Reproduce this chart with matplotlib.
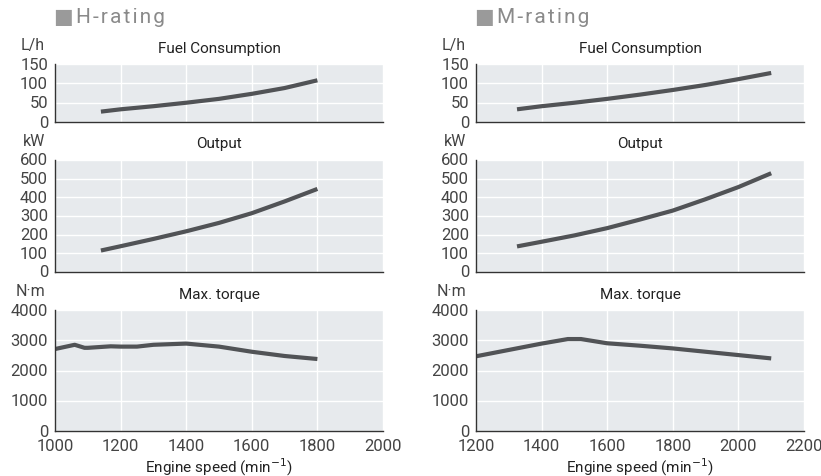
import matplotlib.pyplot as plt

# H-rating
h_fuel_rpm = [1140, 1200, 1300, 1400, 1500, 1600, 1700, 1800]
h_fuel = [27, 33, 41, 50, 60, 73, 88, 108]
h_output_rpm = [1140, 1200, 1300, 1400, 1500, 1600, 1700, 1800]
h_output = [115, 138, 177, 218, 263, 315, 378, 445]
h_torque_rpm = [1000, 1060, 1090, 1100, 1170, 1200, 1250, 1300, 1400, 1500, 1600, 1700, 1800]
h_torque = [2710, 2850, 2750, 2750, 2800, 2790, 2790, 2850, 2890, 2790, 2620, 2480, 2380]

# M-rating
m_fuel_rpm = [1325, 1400, 1500, 1600, 1700, 1800, 1900, 2000, 2100]
m_fuel = [33, 41, 50, 60, 71, 83, 96, 111, 127]
m_output_rpm = [1325, 1400, 1500, 1600, 1700, 1800, 1900, 2000, 2100]
m_output = [137, 162, 196, 235, 281, 329, 390, 455, 529]
m_torque_rpm = [1200, 1300, 1400, 1480, 1520, 1600, 1700, 1800, 1900, 2000, 2100]
m_torque = [2470, 2680, 2890, 3040, 3040, 2900, 2820, 2730, 2620, 2510, 2400]

h_xticks = [1000, 1200, 1400, 1600, 1800, 2000]
m_xticks = [1200, 1400, 1600, 1800, 2000, 2200]

BG = "#e7eaed"
LINE = "#515356"

plt.rcParams["font.family"] = ["Roboto", "DejaVu Sans"]

fig = plt.figure(figsize=(8.21, 4.77), dpi=100)

rows = [
    # bottom, height, ylim, yticks, unit, title
    (0.742, 0.1216, 150, [0, 50, 100, 150], "L/h", "Fuel Consumption"),
    (0.4277, 0.2348, 600, [0, 100, 200, 300, 400, 500, 600], "kW", "Output"),
    (0.0943, 0.2537, 4000, [0, 1000, 2000, 3000, 4000], "N·m", "Max. torque"),
]

columns = [
    (0.067, "H-rating", h_xticks,
     [(h_fuel_rpm, h_fuel), (h_output_rpm, h_output), (h_torque_rpm, h_torque)]),
    (0.5798, "M-rating", m_xticks,
     [(m_fuel_rpm, m_fuel), (m_output_rpm, m_output), (m_torque_rpm, m_torque)]),
]

width = 0.3995
fig_w, fig_h = 821, 477

for left, rating, xticks, series in columns:
    fig.text(left - 0.002, 0.964, "■", color="#9a9a9a", fontsize=15, va="center", ha="left",
             family=["DejaVu Sans"])
    fig.text(left + 0.025, 0.964, "\u200a".join(rating),
             color="#8a8a8a", fontsize=15, va="center", ha="left",
             family=["Roboto", "DejaVu Sans"])
    for i, ((bottom, height, ymax, yticks, unit, title), (x, y)) in enumerate(zip(rows, series)):
        ax = fig.add_axes([left, bottom, width, height])
        ax.set_facecolor(BG)
        ax.plot(x, y, color=LINE, linewidth=3, solid_capstyle="butt")
        ax.set_xlim(xticks[0], xticks[-1])
        ax.set_ylim(0, ymax)
        ax.set_xticks(xticks)
        ax.set_yticks(yticks)
        ax.grid(True, color="white", linewidth=1)
        ax.set_axisbelow(True)
        for side in ["top", "right"]:
            ax.spines[side].set_visible(False)
        for side in ["left", "bottom"]:
            ax.spines[side].set_color("#333333")
            ax.spines[side].set_linewidth(1)
        ax.tick_params(length=0, labelsize=12, colors="#444444")
        ax.tick_params(axis="y", pad=5)
        if i < 2:
            ax.tick_params(labelbottom=False)
        else:
            ax.tick_params(axis="x", pad=5)
            ax.set_xlabel("Engine speed (min$^{-1}$)", fontsize=11, color="#222222", labelpad=2)
        ax.set_title(title, fontsize=11, color="#222222", pad=9)
        ax.text(-10 / (width * fig_w), 1 + 12 / (height * fig_h), unit, transform=ax.transAxes,
                fontsize=11.5, color="#444444", ha="right", va="bottom")
        for lbl in ax.get_yticklabels():
            lbl.set_va("center")

fig.savefig("out.png", dpi=100)
